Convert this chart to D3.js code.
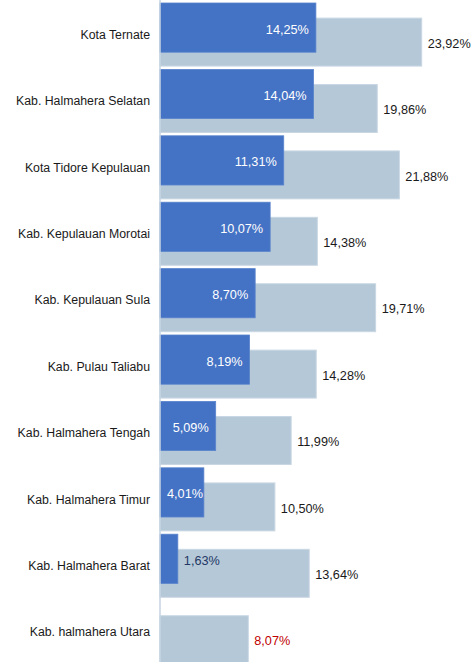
<!DOCTYPE html>
<html><head><meta charset="utf-8">
<script src="https://cdn.jsdelivr.net/npm/d3@7"></script>
<style>body{margin:0;background:#fff}svg{display:block}</style>
</head><body>
<script>
const categories = ["Kota Ternate","Kab. Halmahera Selatan","Kota Tidore Kepulauan","Kab. Kepulauan Morotai","Kab. Kepulauan Sula","Kab. Pulau Taliabu","Kab. Halmahera Tengah","Kab. Halmahera Timur","Kab. Halmahera Barat","Kab. halmahera Utara"];
const seriesA = [14.25,14.04,11.31,10.07,8.70,8.19,5.09,4.01,1.63,null];
const seriesB = [23.92,19.86,21.88,14.38,19.71,14.28,11.99,10.50,13.64,8.07];

const W=473,H=662;
const svg=d3.select("body").append("svg").attr("width",W).attr("height",H);
const x=d3.scaleLinear().domain([0,10]).range([160,269.4]);
const y=d3.scaleBand().domain(categories).range([3,3+66.4*(10-0.05)]).paddingInner(0.05).paddingOuter(0);
const bw=y.bandwidth();
const fmt=v=>d3.format(".2f")(v).replace(".",",")+"%";
const font="'Liberation Sans', Arial, Helvetica, sans-serif";
const numSize=12.7, catSize=12.3;

// gray bars
svg.selectAll("rect.b").data(categories).join("rect").attr("class","b")
  .attr("x",x(0)).attr("y",d=>y(d)+bw*0.24)
  .attr("width",(d,i)=>x(seriesB[i])-x(0)).attr("height",bw*0.76)
  .attr("fill","#b5c8d8").attr("stroke","#c9d7e3").attr("stroke-width",1);
// blue bars
svg.selectAll("rect.a").data(categories.filter((d,i)=>seriesA[i]!=null)).join("rect").attr("class","a")
  .attr("x",x(0)).attr("y",d=>y(d))
  .attr("width",d=>x(seriesA[categories.indexOf(d)])-x(0)).attr("height",bw*0.78)
  .attr("fill","#4472c4").attr("stroke","#5a84cc").attr("stroke-width",0.8);

// axis line
const ax=svg.append("g").attr("transform",`translate(${x(0)},0)`)
  .call(d3.axisLeft(y).tickSize(0).tickPadding(10).tickFormat(d=>d));
ax.select(".domain").attr("d",`M0,0V${H}`).attr("stroke","#c5d3e0").attr("stroke-width",1.5);
ax.selectAll(".tick line").remove();
ax.selectAll(".tick text").attr("font-family",font).attr("font-size",catSize).attr("fill","#1a1a1a")
  .attr("dy","0.35em");

// gray labels
svg.selectAll("text.lb").data(categories).join("text").attr("class","lb")
  .attr("x",(d,i)=>x(seriesB[i])+6).attr("y",d=>y(d)+bw*0.64).attr("dy","0.35em")
  .attr("font-family",font).attr("font-size",numSize)
  .attr("fill",(d,i)=>i===9?"#c00000":"#1a1a1a").text((d,i)=>fmt(seriesB[i]));
// blue labels
svg.selectAll("text.la").data(categories.filter((d,i)=>seriesA[i]!=null)).join("text").attr("class","la")
  .each(function(d){
    const v=seriesA[categories.indexOf(d)];
    const t=d3.select(this).attr("y",y(d)+bw*0.415).attr("dy","0.35em")
      .attr("font-family",font).attr("font-size",numSize).text(fmt(v));
    if(v<3){t.attr("x",x(v)+6).attr("fill","#1f3864");}
    else{
      const w=this.getComputedTextLength();
      t.attr("x",Math.max(x(v)-7,x(0)+7+w)).attr("text-anchor","end").attr("fill","#ffffff");
    }
  });
</script>
</body></html>
